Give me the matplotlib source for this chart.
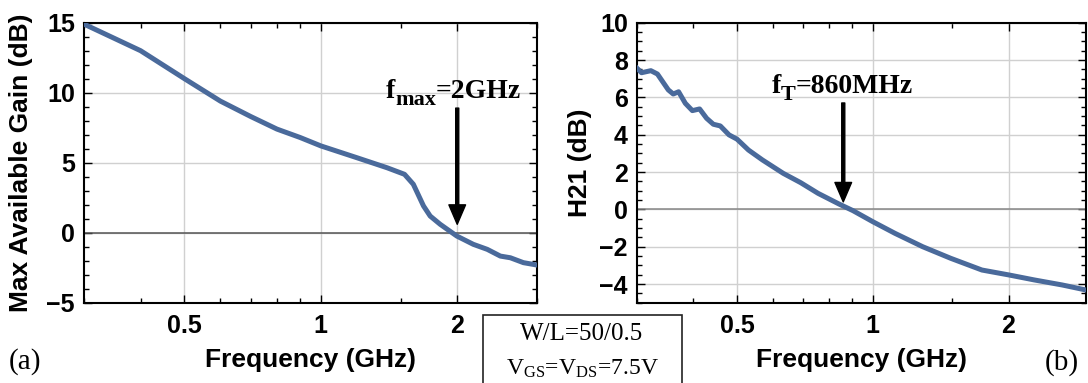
import matplotlib
matplotlib.use('Agg')
import matplotlib.pyplot as plt
from matplotlib.patches import Rectangle
from matplotlib.ticker import FixedLocator, MultipleLocator, NullFormatter

plt.rcParams['font.family'] = ['Liberation Sans', 'DejaVu Sans']
plt.rcParams['mathtext.fontset'] = 'custom'
plt.rcParams['mathtext.rm'] = 'Liberation Serif'
plt.rcParams['mathtext.bf'] = 'Liberation Serif:bold'
plt.rcParams['mathtext.it'] = 'Liberation Serif:italic'

# Max available gain (dB) vs frequency (GHz)
mag_freq = [0.30, 0.40, 0.50, 0.60, 0.70, 0.80, 0.90, 1.00, 1.20, 1.40,
            1.53, 1.60, 1.685, 1.743, 1.834, 1.996, 2.17, 2.33, 2.49, 2.62,
            2.80, 3.00]
mag_db = [14.9, 13.0, 11.0, 9.4, 8.3, 7.4, 6.8, 6.2, 5.36, 4.64,
          4.17, 3.46, 1.91, 1.19, 0.60, -0.24, -0.83, -1.19, -1.67, -1.79,
          -2.14, -2.31]

# H21 (dB) vs frequency (GHz)
h21_freq = [0.300, 0.307, 0.322, 0.333, 0.352, 0.361, 0.371, 0.384, 0.398,
            0.413, 0.428, 0.443, 0.459, 0.480, 0.500, 0.530, 0.569, 0.633,
            0.692, 0.756, 0.841, 0.904, 1.000, 1.119, 1.29, 1.488, 1.746,
            2.00, 2.28, 2.63, 2.97]
h21_db = [7.56, 7.32, 7.43, 7.25, 6.40, 6.18, 6.30, 5.68, 5.29,
          5.38, 4.88, 4.56, 4.47, 3.99, 3.76, 3.18, 2.65, 1.93,
          1.43, 0.86, 0.29, -0.07, -0.66, -1.28, -2.00, -2.62, -3.25,
          -3.51, -3.78, -4.05, -4.32]

x_major = [0.5, 1, 2]
x_labels = ['0.5', '1', '2']
x_minor = [0.3, 0.4, 0.6, 0.7, 0.8, 0.9, 1.5, 3]

line_color = '#4a6a9b'
W, H = 1088, 383

fig = plt.figure(figsize=(W / 100, H / 100), dpi=100)
ax1 = fig.add_axes([84 / W, 1 - 302.7 / H, 453 / W, 280 / H])
ax2 = fig.add_axes([637 / W, 1 - 302.7 / H, 449 / W, 280 / H])


def style_axis(ax, xmax, ylim, ymajor, yminor, zero_color):
    ax.set_xscale('log')
    ax.set_xlim(0.3, xmax)
    ax.set_ylim(*ylim)
    ax.xaxis.set_major_locator(FixedLocator(x_major))
    ax.xaxis.set_minor_locator(FixedLocator(x_minor))
    ax.set_xticklabels(x_labels)
    ax.xaxis.set_minor_formatter(NullFormatter())
    ax.yaxis.set_major_locator(MultipleLocator(ymajor))
    ax.yaxis.set_minor_locator(MultipleLocator(yminor))
    ax.tick_params(which='both', direction='in', top=True, right=True,
                   labelsize=18, width=1)
    ax.tick_params(which='major', length=6)
    ax.tick_params(which='minor', length=3.5)
    ax.tick_params(axis='x', which='major', pad=8)
    ax.tick_params(axis='y', which='major', pad=6.5)
    for lab in ax.get_xticklabels() + ax.get_yticklabels():
        lab.set_fontweight('bold')
    ax.grid(True, which='major', color='#d0d0d0', lw=1)
    ax.axhline(0, color=zero_color, lw=1.1, zorder=1.5)
    for s in ax.spines.values():
        s.set_linewidth(1.5)
    ax.set_xlabel('Frequency (GHz)', fontsize=19, fontweight='bold')
    ax.xaxis.set_label_coords(0.5, -0.16)
    ax.set_axisbelow(True)


style_axis(ax1, 3.0, (-5, 15), 5, 1, '#555555')
style_axis(ax2, 2.97, (-5, 10), 2, 0.5, '#888888')

ax1.plot(mag_freq, mag_db, color=line_color, lw=3.6, zorder=3)
ax2.plot(h21_freq, h21_db, color=line_color, lw=3.6, zorder=3)

ax1.set_ylabel('Max Available Gain (dB)', fontsize=19, fontweight='bold')
ax1.yaxis.set_label_coords(-0.113, 0.5)
ax2.set_ylabel('H21 (dB)', fontsize=19, fontweight='bold')
ax2.yaxis.set_label_coords(-0.1, 0.5)


def sub_label(ax, x, y, main, sub, rest):
    # serif bold label with a large subscript, built piece by piece
    font = dict(family='Liberation Serif', weight='bold')
    t1 = ax.text(x, y, main, fontsize=20, va='baseline', **font)
    t2 = ax.annotate(sub, xy=(1, 0), xycoords=t1, xytext=(0, -4),
                     textcoords='offset points', fontsize=16, va='bottom',
                     **font)
    ax.annotate(rest, xy=(1, 0), xycoords=t2, xytext=(0, 4),
                textcoords='offset points', fontsize=20, va='bottom', **font)


arrow = dict(facecolor='black', edgecolor='black', width=2.2,
             headwidth=12, headlength=14, shrink=0)

sub_label(ax1, 1.39, 9.6, 'f', 'max', '=2GHz')
ax1.annotate('', xy=(2.0, 0.6), xytext=(2.0, 8.9), arrowprops=arrow)

sub_label(ax2, 0.596, 6.23, 'f', 'T', '=860MHz')
ax2.annotate('', xy=(0.86, 0.4), xytext=(0.86, 5.7), arrowprops=arrow)

# panel letters
fig.text(25 / W, 1 - 362 / H, '(a)', family='Liberation Serif',
         fontsize=21, ha='center', va='center')
fig.text(1062 / W, 1 - 363 / H, '(b)', family='Liberation Serif',
         fontsize=21, ha='center', va='center')

# condition box
fig.patches.append(Rectangle((482.7 / W, -0.1), 199.3 / W, 0.1 + 1 - 315 / H,
                             transform=fig.transFigure, fill=False,
                             edgecolor='#222222', lw=1.2))
fig.text(582 / W, 1 - 340 / H, 'W/L=50/0.5', family='Liberation Serif',
         fontsize=18, ha='center', va='baseline')
fig.text(582 / W, 1 - 375 / H, r'V$_{\mathrm{GS}}$=V$_{\mathrm{DS}}$=7.5V',
         family='Liberation Serif', fontsize=17, ha='center', va='baseline')

fig.savefig('out.png', dpi=100)
